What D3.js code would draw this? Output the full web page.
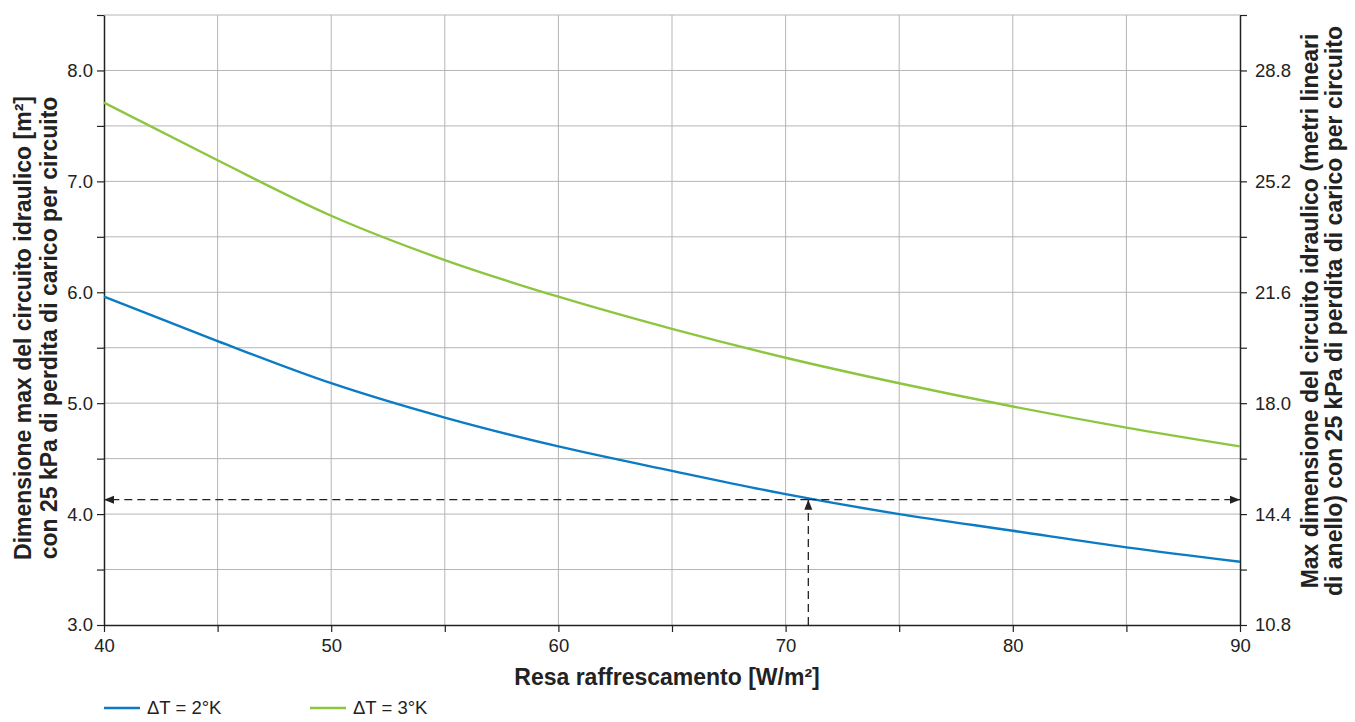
<!DOCTYPE html>
<html><head><meta charset="utf-8">
<script src="https://cdn.jsdelivr.net/npm/d3@7"></script>
<style>
body{margin:0;background:#fff;}
text{font-family:"Liberation Sans",Arial,sans-serif;fill:#222;}
</style></head>
<body><svg id="c" width="1355" height="722"></svg>
<script>
const xValues = [40,45,50,55,60,65,70,75,80,85,90];
const dt2Values = [5.96,5.56,5.18,4.87,4.61,4.39,4.18,4.00,3.85,3.70,3.57];
const dt3Values = [7.71,7.19,6.69,6.29,5.96,5.67,5.41,5.18,4.97,4.78,4.61];
const seriesNames = ["ΔT = 2°K","ΔT = 3°K"];
const seriesColors = ["#0a7bc4","#8cc63f"];
const xTicks = [40,45,50,55,60,65,70,75,80,85,90];
const xTickLabels = ["40","","50","","60","","70","","80","","90"];
const yTicks = [3.0,3.5,4.0,4.5,5.0,5.5,6.0,6.5,7.0,7.5,8.0,8.5];
const yTickLabels = ["3.0","","4.0","","5.0","","6.0","","7.0","","8.0",""];
const y2Factor = 3.6;
const markerX = 71, markerY = 4.13;

const svg = d3.select("#c");
const L=104,R=1240,T=15,B=625;
const x = d3.scaleLinear().domain([40,90]).range([L,R]);
const y = d3.scaleLinear().domain([3,8.5]).range([B,T]);

// grid
svg.append("g").selectAll("line").data(yTicks.slice(1)).join("line")
  .attr("x1",L).attr("x2",R).attr("y1",d=>y(d)).attr("y2",d=>y(d))
  .attr("stroke","#b5b5b5").attr("stroke-width",1);
svg.append("g").selectAll("line").data(xTicks.slice(1,-1)).join("line")
  .attr("y1",T).attr("y2",B).attr("x1",d=>x(d)).attr("x2",d=>x(d))
  .attr("stroke","#b5b5b5").attr("stroke-width",1);

// axes
const gx=svg.append("g").attr("transform",`translate(0,${B})`)
  .call(d3.axisBottom(x).tickValues(xTicks).tickFormat((d,i)=>xTickLabels[i]).tickSize(7).tickSizeOuter(0));
const gy=svg.append("g").attr("transform",`translate(${L},0)`)
  .call(d3.axisLeft(y).tickValues(yTicks).tickFormat((d,i)=>yTickLabels[i]).tickSize(7).tickSizeOuter(0));
const y2 = d3.scaleLinear().domain([3*y2Factor,8.5*y2Factor]).range([B,T]);
const gy2=svg.append("g").attr("transform",`translate(${R},0)`)
  .call(d3.axisRight(y2).tickValues(yTicks.map(v=>v*y2Factor)).tickFormat((d,i)=>yTickLabels[i]?d3.format(".1f")(d):"").tickSize(7).tickSizeOuter(0));
[gx,gy,gy2].forEach(g=>{
  g.select(".domain").attr("stroke","#222").attr("stroke-width",1.5);
  g.selectAll(".tick line").attr("stroke","#222").attr("stroke-width",1.2);
  g.selectAll(".tick text").style("font-size","18.5px").attr("fill","#2a2a2a").style("font-family","Liberation Sans, Arial, sans-serif");
});
gx.selectAll(".tick text").attr("y",14).attr("dy","0.71em");
gy.selectAll(".tick text").attr("x",-11);
gy2.selectAll(".tick text").attr("x",15);

// curves
const line = d3.line().x((d,i)=>x(xValues[i])).y(d=>y(d)).curve(d3.curveMonotoneX);
[dt2Values,dt3Values].forEach((vals,k)=>{
  svg.append("path").datum(vals).attr("d",line).attr("fill","none")
    .attr("stroke",seriesColors[k]).attr("stroke-width",2.4);
});

// markers
const defs=svg.append("defs");
defs.append("marker").attr("id","ah").attr("viewBox","0 0 10 10").attr("refX",10).attr("refY",5)
  .attr("markerWidth",10).attr("markerHeight",10).attr("markerUnits","userSpaceOnUse").attr("orient","auto")
  .append("path").attr("d","M0,1 L10,5 L0,9 Z").attr("fill","#222");
const dash = (x1,y1,x2,y2)=>svg.append("line").attr("x1",x1).attr("x2",x2).attr("y1",y1).attr("y2",y2)
  .attr("stroke","#222").attr("stroke-width",1.3).attr("stroke-dasharray","8,5").attr("marker-end","url(#ah)");
dash(x(markerX),y(markerY),L,y(markerY));
dash(x(markerX),y(markerY),R,y(markerY));
dash(x(markerX),B,x(markerX),y(markerY));

// titles
svg.append("text").attr("x",667).attr("y",685).attr("text-anchor","middle")
  .style("font-size","23px").style("font-weight","bold").text("Resa raffrescamento [W/m²]");
const lt=svg.append("text").attr("transform","translate(0,328) rotate(-90)").attr("text-anchor","middle")
  .style("font-size","23px").style("font-weight","bold");
lt.append("tspan").attr("x",0).attr("y",31).text("Dimensione max del circuito idraulico [m²]");
lt.append("tspan").attr("x",0).attr("y",57).text("con 25 kPa di perdita di carico per circuito");
const rt=svg.append("text").attr("transform","translate(1318,311) rotate(-90)").attr("text-anchor","middle")
  .style("font-size","23px").style("font-weight","bold");
rt.append("tspan").attr("x",0).attr("y",0).text("Max dimensione del circuito idraulico (metri lineari");
rt.append("tspan").attr("x",0).attr("y",24).text("di anello) con 25 kPa di perdita di carico per circuito");

// legend
seriesNames.forEach((n,k)=>{
  const lx = 104 + k*206;
  svg.append("line").attr("x1",lx).attr("x2",lx+36).attr("y1",708).attr("y2",708)
    .attr("stroke",seriesColors[k]).attr("stroke-width",2.4);
  svg.append("text").attr("x",lx+43).attr("y",714).style("font-size","18.5px").text(n);
});
</script></body></html>
